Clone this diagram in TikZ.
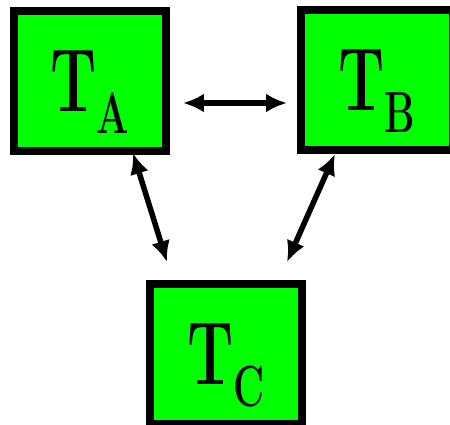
\documentclass[tikz,border=0pt]{standalone}
\usepackage{fontspec}
\usepackage{tikz}
\usetikzlibrary{arrows.meta,positioning,calc}

\newcommand{\tname}[1]{\scalebox{0.66}[1]{\bfseries\fontsize{51}{51}\selectfont T\smash{\raisebox{-12.5pt}{\fontsize{33}{33}\selectfont #1}}}}

\begin{document}
\begin{tikzpicture}[
    x=0.02cm, y=-0.02cm,
    tbox/.style ={rectangle,draw=black,fill=green,line width=0.16cm,
                  minimum width=3.04cm,minimum height=2.8cm,
                  inner sep=0pt,align=center},
    link/.style ={line width=0.11cm,{Latex[length=0.42cm,width=0.38cm]}-{Latex[length=0.42cm,width=0.38cm]}},
  ]
  \useasboundingbox (0,0) rectangle (450,425);
  \clip (0,0) rectangle (450,425);

  % Top row
  \node[tbox] (A) at (90,81)  {\tname{A}};
  \node[tbox] (B) at (377,80) {\tname{B}};

  % Bottom
  \node[tbox] (C) at (226,354) {\tname{C}};

  % Links
  \draw[link] ($(A.east)+(13,22)$) -- ($(B.west)+(-10,23)$);
  \draw[link] ($(A.south)+(43,-2)$) -- ($(C.north)+(-59,-18)$);
  \draw[link] ($(B.south)+(-42,0)$) -- ($(C.north)+(61,-18)$);
\end{tikzpicture}
\end{document}
